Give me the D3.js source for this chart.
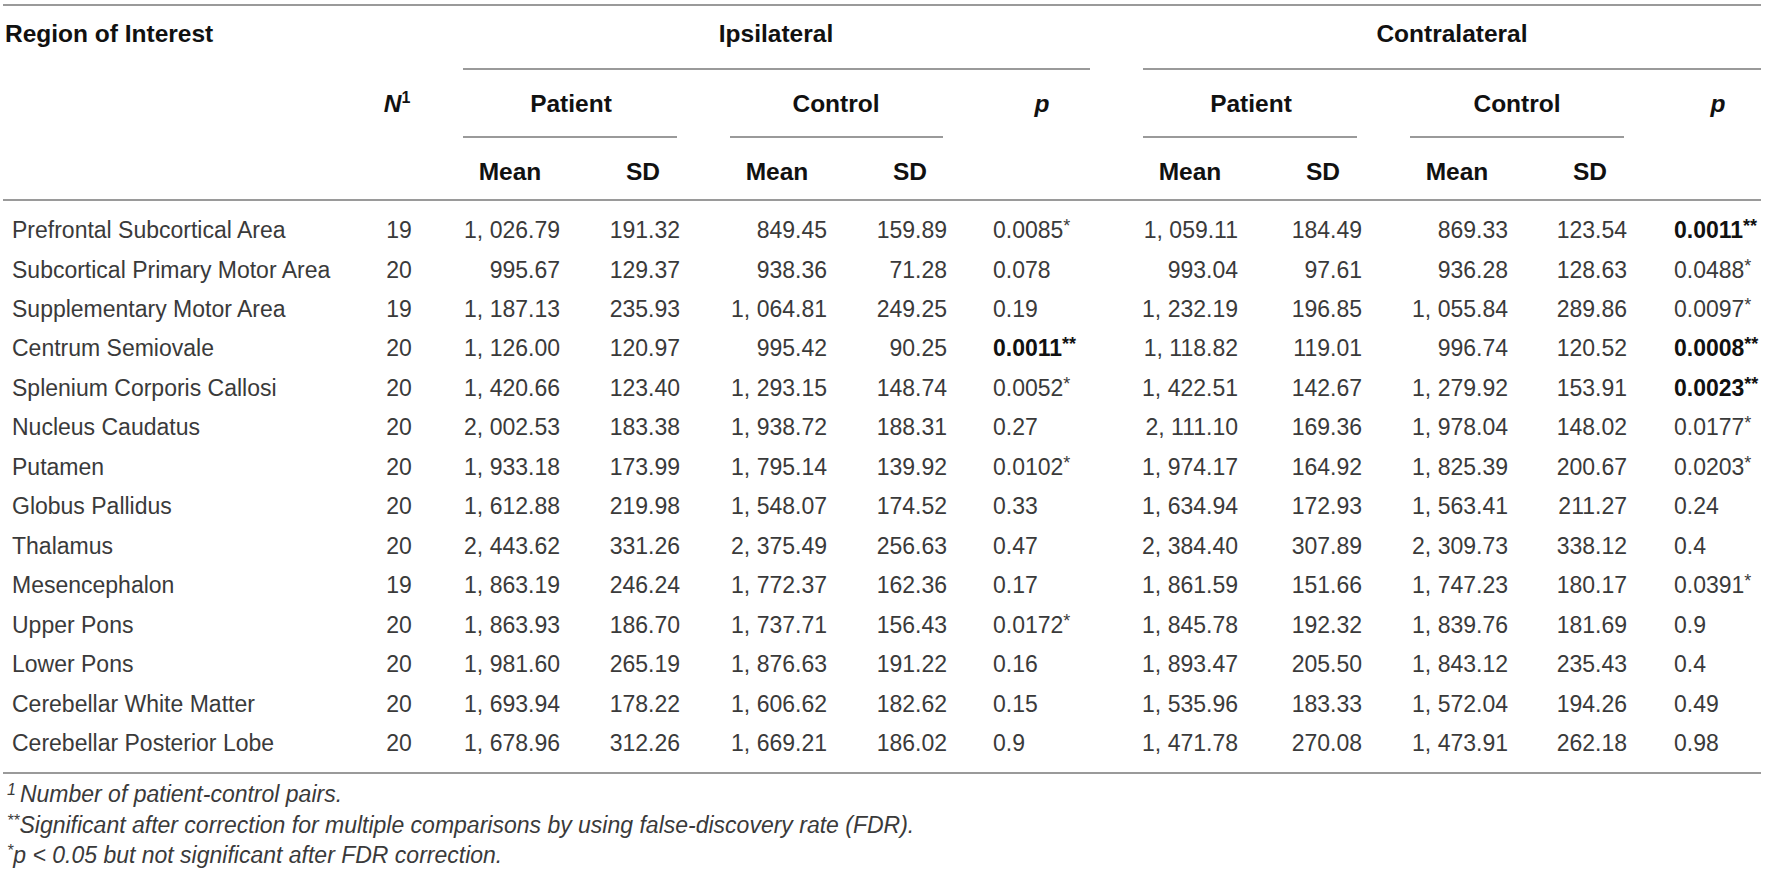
<!DOCTYPE html>
<html>
<head>
<meta charset="utf-8">
<script src="https://cdn.jsdelivr.net/npm/d3@7"></script>
<style>
  body { margin: 0; background: #fff; }
  svg text { font-family: "Liberation Sans", Arial, sans-serif; }
</style>
</head>
<body>
<svg width="1772" height="879"></svg>
<script>
// table values
const regions = [
    "Prefrontal Subcortical Area", "Subcortical Primary Motor Area", "Supplementary Motor Area",
    "Centrum Semiovale", "Splenium Corporis Callosi", "Nucleus Caudatus", "Putamen",
    "Globus Pallidus", "Thalamus", "Mesencephalon", "Upper Pons", "Lower Pons",
    "Cerebellar White Matter", "Cerebellar Posterior Lobe"
];
const nPairs = [19, 20, 19, 20, 20, 20, 20, 20, 20, 19, 20, 20, 20, 20];

const ipsiPatientMean = [1026.79, 995.67, 1187.13, 1126.00, 1420.66, 2002.53, 1933.18, 1612.88, 2443.62, 1863.19, 1863.93, 1981.60, 1693.94, 1678.96];
const ipsiPatientSD = [191.32, 129.37, 235.93, 120.97, 123.40, 183.38, 173.99, 219.98, 331.26, 246.24, 186.70, 265.19, 178.22, 312.26];
const ipsiControlMean = [849.45, 938.36, 1064.81, 995.42, 1293.15, 1938.72, 1795.14, 1548.07, 2375.49, 1772.37, 1737.71, 1876.63, 1606.62, 1669.21];
const ipsiControlSD = [159.89, 71.28, 249.25, 90.25, 148.74, 188.31, 139.92, 174.52, 256.63, 162.36, 156.43, 191.22, 182.62, 186.02];
const ipsiP = ["0.0085", "0.078", "0.19", "0.0011", "0.0052", "0.27", "0.0102", "0.33", "0.47", "0.17", "0.0172", "0.16", "0.15", "0.9"];
// 0 = none, 1 = *, 2 = ** (bold)
const ipsiSig = [1, 0, 0, 2, 1, 0, 1, 0, 0, 0, 1, 0, 0, 0];

const contraPatientMean = [1059.11, 993.04, 1232.19, 1118.82, 1422.51, 2111.10, 1974.17, 1634.94, 2384.40, 1861.59, 1845.78, 1893.47, 1535.96, 1471.78];
const contraPatientSD = [184.49, 97.61, 196.85, 119.01, 142.67, 169.36, 164.92, 172.93, 307.89, 151.66, 192.32, 205.50, 183.33, 270.08];
const contraControlMean = [869.33, 936.28, 1055.84, 996.74, 1279.92, 1978.04, 1825.39, 1563.41, 2309.73, 1747.23, 1839.76, 1843.12, 1572.04, 1473.91];
const contraControlSD = [123.54, 128.63, 289.86, 120.52, 153.91, 148.02, 200.67, 211.27, 338.12, 180.17, 181.69, 235.43, 194.26, 262.18];
const contraP = ["0.0011", "0.0488", "0.0097", "0.0008", "0.0023", "0.0177", "0.0203", "0.24", "0.4", "0.0391", "0.9", "0.4", "0.49", "0.98"];
const contraSig = [2, 1, 1, 2, 2, 1, 1, 0, 0, 1, 0, 0, 0, 0];

const footnotes = [
    { mark: "1", text: "Number of patient-control pairs." },
    { mark: "**", text: "Significant after correction for multiple comparisons by using false-discovery rate (FDR)." },
    { mark: "*", text: "p < 0.05 but not significant after FDR correction." }
];

const svg = d3.select("svg");

const bodySize = 23;
const headSize = 24.5;
const textColor = "#3a3a3a";
const ruleColor = "#9a9a9a";

// row positions come from a point scale over the regions
const y = d3.scalePoint()
    .domain(regions)
    .range([230, 743]);

// numbers are printed like "1, 026.79"
const fmt = v => d3.format(",.2f")(v).replace(",", ", ");

// horizontal rules
function rule(x1, x2, yy) {
    svg.append("line")
        .attr("x1", x1).attr("x2", x2)
        .attr("y1", yy).attr("y2", yy)
        .attr("stroke", ruleColor)
        .attr("stroke-width", 2);
}
rule(3, 1761, 5);
rule(463, 1090, 69);
rule(1143, 1761, 69);
rule(463, 677, 137);
rule(730, 943, 137);
rule(1143, 1357, 137);
rule(1410, 1624, 137);
rule(3, 1761, 200);
rule(3, 1761, 773);

// header texts
function head(x, yy, txt, anchor) {
    return svg.append("text")
        .attr("x", x).attr("y", yy)
        .attr("dy", "0.35em")
        .attr("text-anchor", anchor || "middle")
        .attr("font-size", headSize)
        .attr("font-weight", "bold")
        .attr("fill", "#111")
        .text(txt);
}
head(5, 33, "Region of Interest", "start");
head(776, 33, "Ipsilateral");
head(1452, 33, "Contralateral");

const nHead = head(397, 103, "");
nHead.append("tspan").attr("font-style", "italic").text("N");
nHead.append("tspan").attr("font-size", 16).attr("dy", -9).text("1");

head(571, 103, "Patient");
head(836, 103, "Control");
head(1042, 103, "p").attr("font-style", "italic");
head(1251, 103, "Patient");
head(1517, 103, "Control");
head(1718, 103, "p").attr("font-style", "italic");

[[510, "Mean"], [643, "SD"], [777, "Mean"], [910, "SD"],
 [1190, "Mean"], [1323, "SD"], [1457, "Mean"], [1590, "SD"]]
    .forEach(d => head(d[0], 171, d[1]));

// body columns: x position, anchor, values
const columns = [
    { x: 12, anchor: "start", values: regions },
    { x: 399, anchor: "middle", values: nPairs },
    { x: 560, anchor: "end", values: ipsiPatientMean.map(fmt) },
    { x: 680, anchor: "end", values: ipsiPatientSD.map(fmt) },
    { x: 827, anchor: "end", values: ipsiControlMean.map(fmt) },
    { x: 947, anchor: "end", values: ipsiControlSD.map(fmt) },
    { x: 1238, anchor: "end", values: contraPatientMean.map(fmt) },
    { x: 1362, anchor: "end", values: contraPatientSD.map(fmt) },
    { x: 1508, anchor: "end", values: contraControlMean.map(fmt) },
    { x: 1627, anchor: "end", values: contraControlSD.map(fmt) }
];

columns.forEach(col => {
    svg.append("g").selectAll("text")
        .data(col.values)
        .enter()
        .append("text")
        .attr("x", col.x)
        .attr("y", (d, i) => y(regions[i]))
        .attr("dy", "0.35em")
        .attr("text-anchor", col.anchor)
        .attr("font-size", bodySize)
        .attr("fill", textColor)
        .text(d => d);
});

// p value columns with significance marks
function pColumn(x, pVals, sig) {
    const t = svg.append("g").selectAll("text")
        .data(pVals.map((p, i) => ({ p: p, s: sig[i], r: regions[i] })))
        .enter()
        .append("text")
        .attr("x", x)
        .attr("y", d => y(d.r))
        .attr("dy", "0.35em")
        .attr("font-size", bodySize)
        .attr("fill", d => d.s === 2 ? "#111" : textColor)
        .attr("font-weight", d => d.s === 2 ? "bold" : "normal");
    t.append("tspan").text(d => d.p);
    t.filter(d => d.s > 0)
        .append("tspan")
        .attr("font-size", 18)
        .attr("dy", -6)
        .text(d => "*".repeat(d.s));
}
pColumn(993, ipsiP, ipsiSig);
pColumn(1674, contraP, contraSig);

// footnotes under the table
const notes = svg.append("g").selectAll("text")
    .data(footnotes)
    .enter()
    .append("text")
    .attr("x", 7)
    .attr("y", (d, i) => 802 + i * 30.5)
    .attr("dy", "0.35em")
    .attr("font-size", bodySize)
    .attr("font-style", "italic")
    .attr("fill", textColor);
notes.append("tspan")
    .attr("font-size", 16)
    .attr("dy", -7)
    .text(d => d.mark);
notes.append("tspan")
    .attr("dy", 7)
    .attr("dx", d => d.mark === "1" ? 4 : 0)
    .text(d => d.text);
</script>
</body>
</html>
